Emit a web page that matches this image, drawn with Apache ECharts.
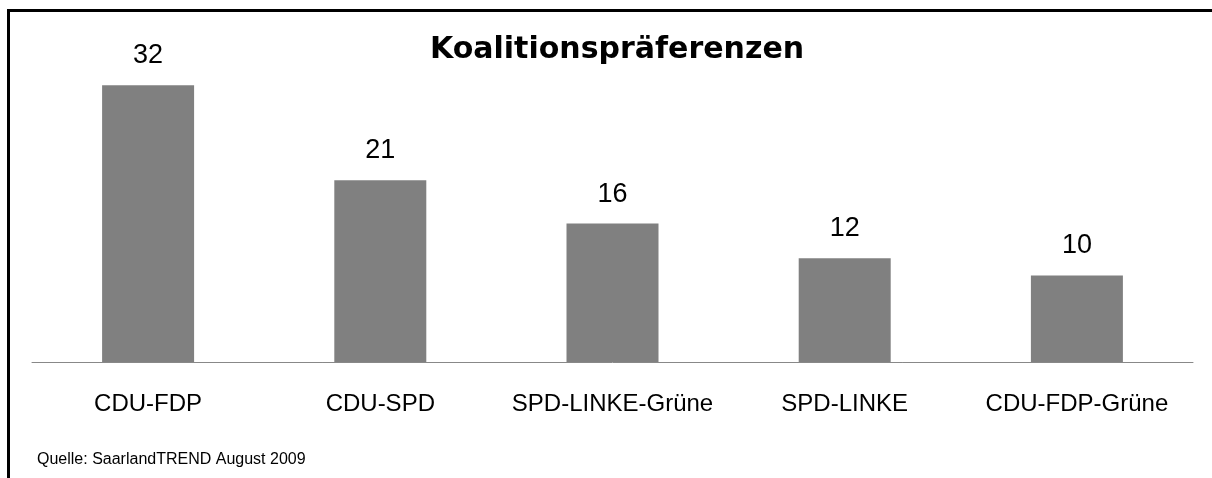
<!DOCTYPE html>
<html>
<head>
<meta charset="utf-8">
<script src="https://cdn.jsdelivr.net/npm/echarts@6/dist/echarts.min.js"></script>
<style>html,body{margin:0;padding:0;background:#fff;}#c{width:1212px;height:478px;}</style>
</head>
<body>
<div id="c"></div>
<script>
const categories = ['CDU-FDP', 'CDU-SPD', 'SPD-LINKE-Grüne', 'SPD-LINKE', 'CDU-FDP-Grüne'];
const values = [32, 21, 16, 12, 10];
const titleText = 'Koalitionspräferenzen';
const sourceText = 'Quelle: SaarlandTREND August 2009';

const chart = echarts.init(document.getElementById('c'), null, {renderer: 'canvas'});
chart.setOption({
  backgroundColor: '#ffffff',
  animation: false,
  title: {
    text: titleText,
    left: 612, top: 30, textAlign: 'center',
    textStyle: {fontFamily: 'DejaVu Sans', fontWeight: 'bold', fontSize: 30, color: '#000'}
  },
  grid: {left: 32, right: 19, top: 16, bottom: 116, containLabel: false},
  xAxis: {
    type: 'category', data: categories,
    axisLine: {show: true, lineStyle: {color: '#888888', width: 1}},
    axisTick: {show: false},
    axisLabel: {interval: 0, margin: 30, fontFamily: 'Liberation Sans', fontSize: 24, color: '#000'}
  },
  yAxis: {type: 'value', min: 0, max: 40, show: false, splitLine: {show: false}},
  series: [{
    type: 'bar', data: values, barWidth: 92,
    itemStyle: {color: '#808080'},
    label: {show: true, position: 'top', distance: 16, fontFamily: 'Liberation Sans', fontSize: 27, color: '#000'}
  }],
  graphic: [
    {type: 'rect', shape: {x: 7, y: 9, width: 1205, height: 3}, style: {fill: '#000'}},
    {type: 'rect', shape: {x: 7, y: 9, width: 3, height: 469}, style: {fill: '#000'}},
    {type: 'text', left: 37, top: 452, style: {text: sourceText, fontFamily: 'Liberation Sans', fontSize: 16, fill: '#000'}}
  ]
});
</script>
</body>
</html>
